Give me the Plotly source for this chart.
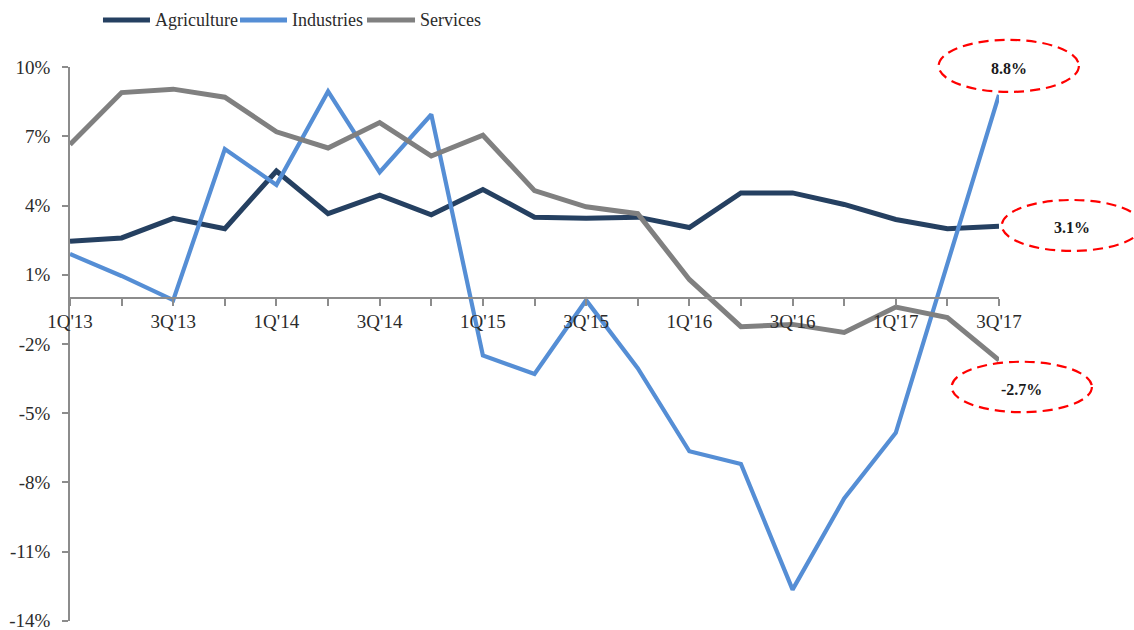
import plotly.graph_objects as go

# Quarterly growth by sector, 1Q'13 - 3Q'17 (%)
quarters = [
    "1Q'13", "2Q'13", "3Q'13", "4Q'13",
    "1Q'14", "2Q'14", "3Q'14", "4Q'14",
    "1Q'15", "2Q'15", "3Q'15", "4Q'15",
    "1Q'16", "2Q'16", "3Q'16", "4Q'16",
    "1Q'17", "2Q'17", "3Q'17",
]
agriculture = [2.45, 2.6, 3.45, 3.0, 5.5, 3.65, 4.45, 3.6, 4.7, 3.5,
               3.45, 3.5, 3.05, 4.55, 4.55, 4.05, 3.4, 3.0, 3.1]
industries = [1.9, 0.95, -0.1, 6.45, 4.9, 8.95, 5.45, 7.95, -2.5, -3.3,
              -0.1, -3.05, -6.65, -7.2, -12.65, -8.7, -5.85, 1.4, 8.8]
services = [6.65, 8.9, 9.05, 8.7, 7.2, 6.5, 7.6, 6.15, 7.05, 4.65,
            3.95, 3.65, 0.8, -1.25, -1.15, -1.5, -0.4, -0.85, -2.7]

# Only every other quarter is labelled on the axis
x_tick_labels = [q if i % 2 == 0 else "" for i, q in enumerate(quarters)]
y_ticks = [-14, -11, -8, -5, -2, 1, 4, 7, 10]
y_tick_labels = [f"{v}%" for v in y_ticks]
y_min, y_max = -14, 10

series = [
    ("Agriculture", agriculture, "#254061", 5),
    ("Industries", industries, "#558ED5", 4.2),
    ("Services", services, "#808080", 5),
]

FONT = "Liberation Serif"
AXIS_GREY = "#8C8C8C"
TEXT = "#2B2B2B"

fig = go.Figure()
for name, values, color, width in series:
    fig.add_trace(go.Scatter(
        x=quarters, y=values, name=name, mode="lines",
        line=dict(color=color, width=width), showlegend=False,
    ))

# Legend row across the top: (line x0, line x1, label x) in paper units
legend_slots = [(0.0355, 0.0861, 0.0893), (0.183, 0.2336, 0.2368), (0.3197, 0.3714, 0.3746)]
legend_y = 1.0848
for (name, _, color, _), (lx0, lx1, tx) in zip(series, legend_slots):
    fig.add_shape(
        type="line", xref="paper", yref="paper",
        x0=lx0, x1=lx1, y0=legend_y, y1=legend_y,
        line=dict(color=color, width=5),
    )
    fig.add_annotation(
        xref="paper", yref="paper", x=tx, y=legend_y,
        xanchor="left", yanchor="middle", text=name, showarrow=False,
        font=dict(family=FONT, size=18, color=TEXT),
    )

# Callouts for the latest readings
callouts = [
    # (value, ellipse x0, x1, y0, y1) in paper units; text sits at the centre
    (industries[-1], 0.935, 1.086, 0.955, 1.049),
    (agriculture[-1], 1.003, 1.154, 0.668, 0.760),
    (services[-1], 0.949, 1.100, 0.377, 0.468),
]
for val, x0, x1, y0, y1 in callouts:
    fig.add_shape(
        type="circle", xref="paper", yref="paper",
        x0=x0, x1=x1, y0=y0, y1=y1,
        line=dict(color="#FF0000", width=2.2, dash="10px,6px"),
    )
    fig.add_annotation(
        xref="paper", yref="paper", x=(x0 + x1) / 2, y=(y0 + y1) / 2 - 0.004,
        xanchor="center", yanchor="middle",
        text=f"<b>{val:.1f}%</b>", showarrow=False,
        font=dict(family=FONT, size=16, color="#1a1a1a"),
    )

fig.update_layout(
    width=1134, height=630,
    margin=dict(l=70, r=135, t=67, b=9),
    paper_bgcolor="white", plot_bgcolor="white",
    font=dict(family=FONT, size=19, color=TEXT),
    showlegend=False,
    xaxis=dict(
        type="category", range=[0, len(quarters) - 1],
        tickmode="array", tickvals=quarters, ticktext=x_tick_labels,
        anchor="free", position=(0 - y_min) / (y_max - y_min),
        showline=True, linecolor=AXIS_GREY, linewidth=1.5,
        ticks="outside", ticklen=7, tickcolor=AXIS_GREY, tickwidth=1.5,
        showgrid=False, zeroline=False, automargin=False,
        tickfont=dict(family=FONT, size=19, color=TEXT),
    ),
    yaxis=dict(
        range=[y_min - 0.01, y_max + 0.01], tickmode="array",
        tickvals=y_ticks, ticktext=y_tick_labels,
        showline=True, linecolor=AXIS_GREY, linewidth=1.5,
        ticks="outside", ticklen=6, tickcolor=AXIS_GREY, tickwidth=1.5,
        ticklabelstandoff=8, ticklabeloverflow="allow",
        showgrid=False, zeroline=False, automargin=False,
        tickfont=dict(family=FONT, size=19, color=TEXT),
    ),
)

fig.write_html("out.html")
